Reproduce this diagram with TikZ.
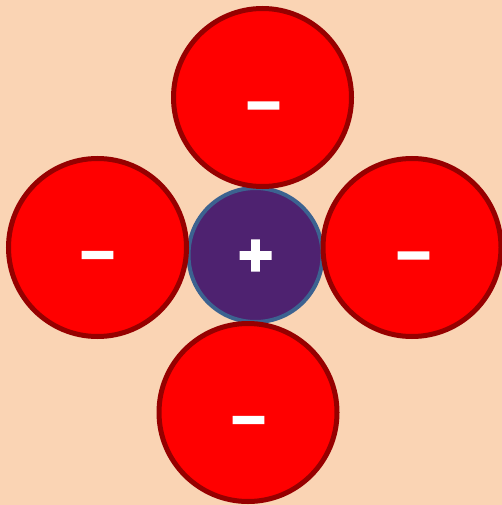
\documentclass[tikz,border=0pt]{standalone}
\usepackage{fontspec}
\setmainfont{Liberation Sans}[BoldFeatures={FakeBold=4}]
\definecolor{bgpeach}{HTML}{FAD4B4}
\definecolor{ionred}{HTML}{FF0000}
\definecolor{ionredborder}{HTML}{960000}
\definecolor{ionpurple}{HTML}{4E2270}
\definecolor{ionblue}{HTML}{3C6290}
\begin{document}
\begin{tikzpicture}[x=1pt,y=-1pt,
  anion/.style={circle,fill=ionred,draw=ionredborder,line width=5pt,minimum size=178pt,inner sep=0pt},
  cation/.style={circle,fill=ionpurple,draw=ionblue,line width=4pt,minimum size=134pt,inner sep=0pt},
  sign/.style={text=white,font=\fontsize{59}{59}\selectfont\bfseries,inner sep=0pt}]
\fill[bgpeach] (0,0) rectangle (502,505);
\useasboundingbox (0,0) rectangle (502,505);
\node[cation] (c) at (255.5,255) {};
\node[anion] (t) at (262.5,97.5) {};
\node[anion] (l) at (97.5,247.5) {};
\node[anion] (r) at (412,247.5) {};
\node[anion] (b) at (248,412.5) {};
\node[sign] (cs) at (255.5,257.8) {+};
\node[sign] (ts) at (263.5,112) {–};
\node[sign] (ls) at (97.5,261.5) {–};
\node[sign] (rs) at (413.5,262) {–};
\node[sign] (bs) at (248.5,426.5) {–};
\end{tikzpicture}
\end{document}
